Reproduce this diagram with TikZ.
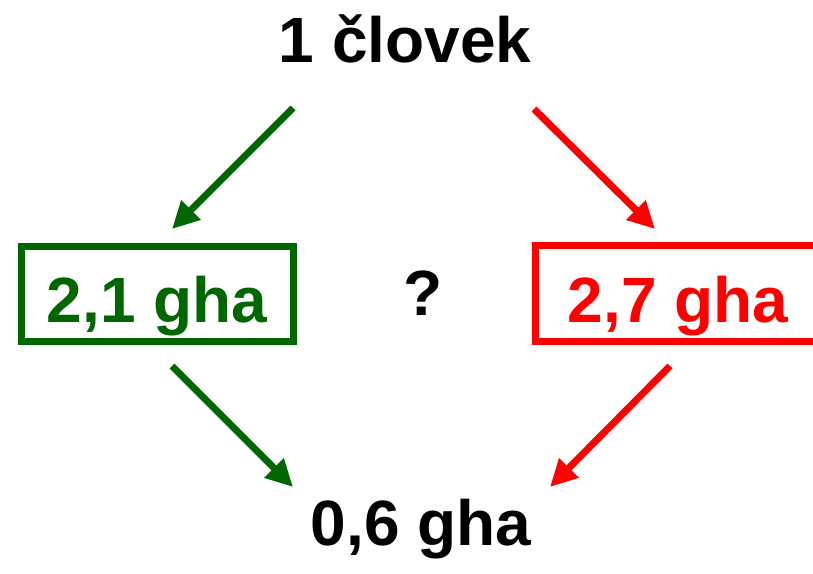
\documentclass[tikz,border=0pt]{standalone}
\usepackage{fontspec}
\setmainfont{Liberation Sans}
\usetikzlibrary{arrows.meta}
\definecolor{dgreen}{HTML}{006600}
\definecolor{lred}{HTML}{FF0000}
\begin{document}
\begin{tikzpicture}[x=1pt,y=-1pt,
  lbl/.style={font=\fontsize{64}{64}\selectfont\bfseries, inner sep=0pt, anchor=base},
  boxg/.style={draw=dgreen, line width=7pt, inner sep=0pt},
  boxr/.style={draw=lred, line width=7pt, inner sep=0pt},
  arr/.style={line width=7pt, -{Triangle[length=27pt,width=26pt]}}]
\useasboundingbox (0,0) rectangle (813,573);
\clip (0,0) rectangle (813,573);
% texts
\node[lbl] (top) at (405,62) {1 človek};
\node[lbl] (q) at (423,315) {?};
\node[lbl] (bot) at (421,545) {0,6 gha};
\node[lbl, text=dgreen] (gtxt) at (157,322) {2,1 gha};
\node[lbl, text=lred] (rtxt) at (678,322) {2,7 gha};
% boxes
\node[boxg, minimum width=272pt, minimum height=95pt] (gbox) at (157,293.5) {};
\node[boxr, minimum width=285pt, minimum height=96pt] (rbox) at (677.5,293) {};
% arrow endpoints
\coordinate (g1s) at (293,108);
\coordinate (g1e) at (172,229);
\coordinate (g2s) at (172,366);
\coordinate (g2e) at (293,487);
\coordinate (r1s) at (534,109);
\coordinate (r1e) at (655,229);
\coordinate (r2s) at (670,366);
\coordinate (r2e) at (550,487);
\draw[arr, dgreen] (g1s) -- (g1e);
\draw[arr, dgreen] (g2s) -- (g2e);
\draw[arr, lred] (r1s) -- (r1e);
\draw[arr, lred] (r2s) -- (r2e);
\end{tikzpicture}
\end{document}
